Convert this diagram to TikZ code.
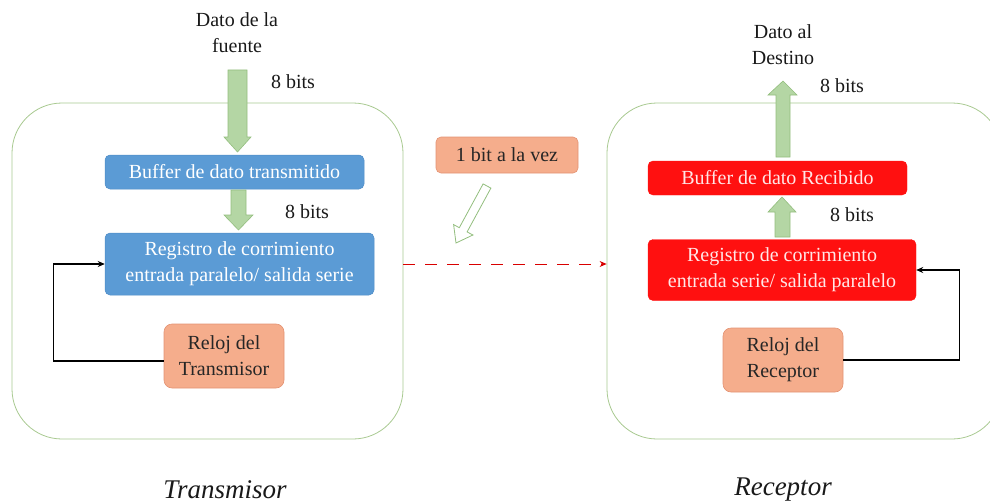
\documentclass[tikz,border=0pt]{standalone}
\usepackage{fontspec}
\setmainfont{Liberation Serif}
\usetikzlibrary{arrows.meta}
\definecolor{cont}{HTML}{A8C990}
\definecolor{bluebox}{HTML}{5B9BD5}
\definecolor{blueedge}{HTML}{4F8CC6}
\definecolor{redbox}{HTML}{FF1010}
\definecolor{salmon}{HTML}{F5AD8C}
\definecolor{salmonedge}{HTML}{E39373}
\definecolor{garrow}{HTML}{B4D6A4}
\definecolor{garrowedge}{HTML}{93BE7E}
\definecolor{redtext}{HTML}{FFE6E6}
\begin{document}
\begin{tikzpicture}[x=1pt,y=-1pt,
  every node/.style={font=\fontsize{20}{26}\selectfont, inner sep=0pt},
  container/.style={draw=cont, line width=0.8pt, rounded corners=50pt},
  bluestyle/.style={fill=bluebox, draw=blueedge, line width=0.5pt, rounded corners=5pt, text=white, align=center},
  redstyle/.style={fill=redbox, draw=redbox, rounded corners=5pt, text=redtext, align=center},
  clockbox/.style={fill=salmon, draw=salmonedge, line width=0.6pt, rounded corners=8pt, text=black!85, align=center},
  blockarrow/.style={fill=garrow, draw=garrowedge, line width=0.6pt},
  feed/.style={draw=black, line width=1.3pt, -{Stealth[length=7pt,width=6pt]}},
  plain/.style={align=center, text=black!90},
  title/.style={font=\fontsize{27}{30}\selectfont\itshape, text=black!90}
]
\useasboundingbox (0,0) rectangle (990,503);

% containers
\node[container, minimum width=391pt, minimum height=336pt] (tx) at (207.5,271) {};
\node[container, minimum width=395pt, minimum height=336pt] (rx) at (804.5,271) {};

% transmitter
\node[plain] (src) at (237,33) {Dato de la\\fuente};
\node[plain] at (293,82) {8 bits};
\node[bluestyle, minimum width=259pt, minimum height=34pt] (buft) at (234.5,172) {Buffer de dato transmitido};
\node[plain] at (307,212) {8 bits};
\node[bluestyle, minimum width=269pt, minimum height=62pt] (regt) at (239.5,264) {Registro de corrimiento\\entrada paralelo/ salida serie};
\node[clockbox, minimum width=120pt, minimum height=64pt] (clkt) at (224,356) {Reloj del\\Transmisor};
\node[title] at (225,490) {Transmisor};

\draw[blockarrow] (228,70) -- (247,70) -- (247,137) -- (251,137) -- (237.5,152) -- (224,137) -- (228,137) -- cycle;
\draw[blockarrow] (231,190) -- (246,190) -- (246,215) -- (253,215) -- (238.5,230) -- (224,215) -- (231,215) -- cycle;

\draw[feed] ([yshift=-5pt]clkt.west) -- ++(-110,0) |- (regt.west);

% middle
\node[clockbox, rounded corners=5pt, minimum width=142pt, minimum height=36pt] (onebit) at (507,155) {1 bit a la vez};
\draw[draw=garrowedge, line width=0.8pt, fill=white] (490.9,188.1) -- (467.1,231.9) -- (472.9,235.0) -- (456,243) -- (453.6,224.6) -- (459.3,227.7) -- (483.1,183.9) -- cycle;
\draw[red!85!black, line width=0.8pt, dash pattern=on 12pt off 10pt, -{Stealth[length=7pt,width=6pt]}] (tx.east |- regt.center) -- (rx.west |- regt.center);

% receiver
\node[plain] (dst) at (783,45) {Dato al\\Destino};
\node[plain] at (842,86) {8 bits};
\node[redstyle, minimum width=259pt, minimum height=34pt] (bufr) at (777.5,178) {Buffer de dato Recibido};
\node[plain] at (852,215) {8 bits};
\node[redstyle, minimum width=268pt, minimum height=61pt] (regr) at (782,270) {Registro de corrimiento\\entrada serie/ salida paralelo};
\node[clockbox, minimum width=120pt, minimum height=64pt] (clkr) at (783,360) {Reloj del\\Receptor};
\node[title] at (783,490) {Receptor};

\draw[blockarrow] (776,157) -- (790,157) -- (790,95) -- (797,95) -- (783,81) -- (768,95) -- (776,95) -- cycle;
\draw[blockarrow] (775,237) -- (790,237) -- (790,212) -- (796,212) -- (782,197) -- (768,212) -- (775,212) -- cycle;

\draw[feed] (clkr.east) -- ++(116,0) |- (regr.east);
\end{tikzpicture}
\end{document}
